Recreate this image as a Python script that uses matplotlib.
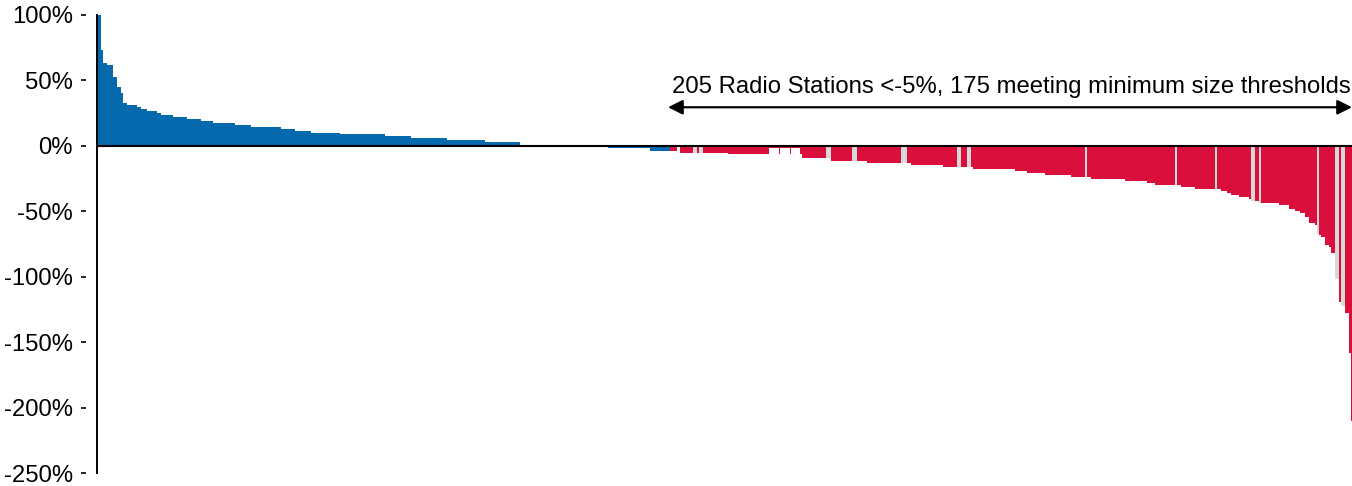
import numpy as np
import matplotlib
matplotlib.use("Agg")
import matplotlib.pyplot as plt
import matplotlib.transforms as mtransforms
from matplotlib.ticker import FuncFormatter

# ---- data ----
# relative station size (bar width) and % change (bar height), in plotting order
station_size = [
    4, 2, 4, 6, 4, 4, 2, 4, 10, 4, 6, 10, 4, 12, 14, 14, 12, 22, 16, 30,
    14, 16, 29, 45, 26, 36, 38, 35, 44, 44, 42, 20,
    7, 3, 13, 4, 2, 4, 25, 39, 1.5, 10, 1.5, 9.5, 1.5, 9, 2, 24, 5, 21,
    5, 10, 34, 6, 4, 32, 14, 4, 6, 4, 2, 42, 12, 18, 26, 14, 2, 4, 34, 22,
    8, 20, 2, 4, 14, 20, 2, 4, 6, 4, 8, 10, 2, 4, 4, 2, 18, 10, 6, 5,
    5, 4, 6, 2, 2, 2, 4, 4, 2, 4, 4, 2, 4, 4, 2, 1,
]
change_pct = [
    100, 73, 63.5, 62, 53, 45.3, 40.5, 33, 31.3, 29.8, 28.3, 26.8, 25.2, 23.7, 22.2, 20.6, 19.1, 17.6, 16.1, 14.5,
    13.0, 11.5, 10.2, 8.9, 7.4, 5.9, 4.4, 2.8, 0.1, 0.3, -2.0, -3.8,
    -3.8, -1.0, -5.2, -5.2, -5.2, -5.2, -5.2, -6.0, -6.5, -1.5, -6.5, -1.5, -6.5, -1.5, -6.5, -9.0, -9.0, -11.6,
    -11.6, -11.6, -13.0, -13.0, -13.0, -14.4, -15.9, -15.9, -15.9, -15.9, -15.9, -17.4, -19.0, -20.5, -22.0, -23.5, -23.5, -23.5, -25.3, -27.1,
    -28.7, -30.2, -30.2, -30.2, -31.7, -33.3, -33.3, -33.3, -34.8, -36.3, -37.8, -39.0, -40.6, -42.4, -42.4, -43.5, -44.0, -45.3, -48.5, -50.0,
    -51.6, -54.6, -59.2, -60.8, -67.7, -68.4, -70.0, -76.0, -77.6, -82.2, -102.0, -119.0, -122.0, -128.0, -158.6, -210.6,
]
# B = above -5% group, R = below -5% meeting size threshold, G = below size threshold
group = list("B" * 32) + list(
    "RGRGRGRRRRRRRRRRGR"
    "GRRGRRRGRGRRRRRRGRRRR"
    "RGRRRGRRRRRRGRGRRRRRR"
    "RRGRRRRRGRGRRR"
)

yticks = [100, 50, 0, -50, -100, -150, -200, -250]
annotation = "205 Radio Stations <-5%, 175 meeting minimum size thresholds"

palette = {"B": "#046AAD", "R": "#DA0F3C", "G": "#D9D9D9"}

# ---- figure ----
W, H = 1352, 486
fig = plt.figure(figsize=(W / 100, H / 100), dpi=100)
ax = fig.add_axes([97 / W, (H - 473) / H, (W - 97) / W, (473 - 15) / H])

widths = np.array(station_size, dtype=float)
lefts = np.concatenate([[0], np.cumsum(widths)[:-1]])
colors = [palette[g] for g in group]
ax.bar(lefts, change_pct, width=widths, align="edge", color=colors,
       linewidth=0, zorder=2)

ax.set_xlim(0, widths.sum())
ax.set_ylim(-250, 100)
ax.axhline(0, color="black", lw=1.5, zorder=3)

for s in ["top", "right", "bottom"]:
    ax.spines[s].set_visible(False)
ax.spines["left"].set_linewidth(1.4)
ax.set_xticks([])
ax.set_yticks(yticks)
ax.yaxis.set_major_formatter(FuncFormatter(lambda v, p: f"{int(v)}%"))
ax.tick_params(axis="y", length=0, pad=17.5, labelsize=17.2)
for lbl in ax.get_yticklabels():
    lbl.set_fontfamily("Liberation Sans")

# small detached tick marks left of the axis line
trans = mtransforms.blended_transform_factory(ax.transAxes, ax.transData)
axw = W - 97
ax.hlines(yticks, -16 / axw, -11 / axw, colors="black", lw=1.2,
          transform=trans, clip_on=False)

# annotation arrow across the "<-5%" group
start = lefts[32]
end = widths.sum()
ax.annotate("", xy=(end, 29.5), xytext=(start - 2, 29.5),
            arrowprops=dict(arrowstyle="<|-|>", color="black", lw=1.6,
                            mutation_scale=22, shrinkA=0, shrinkB=0),
            annotation_clip=False, zorder=4)
ax.text((start + end) / 2, 45.0, annotation, ha="center", va="center",
        fontsize=17.2, family="Liberation Sans", color="black")

fig.savefig("out.png", dpi=100)
